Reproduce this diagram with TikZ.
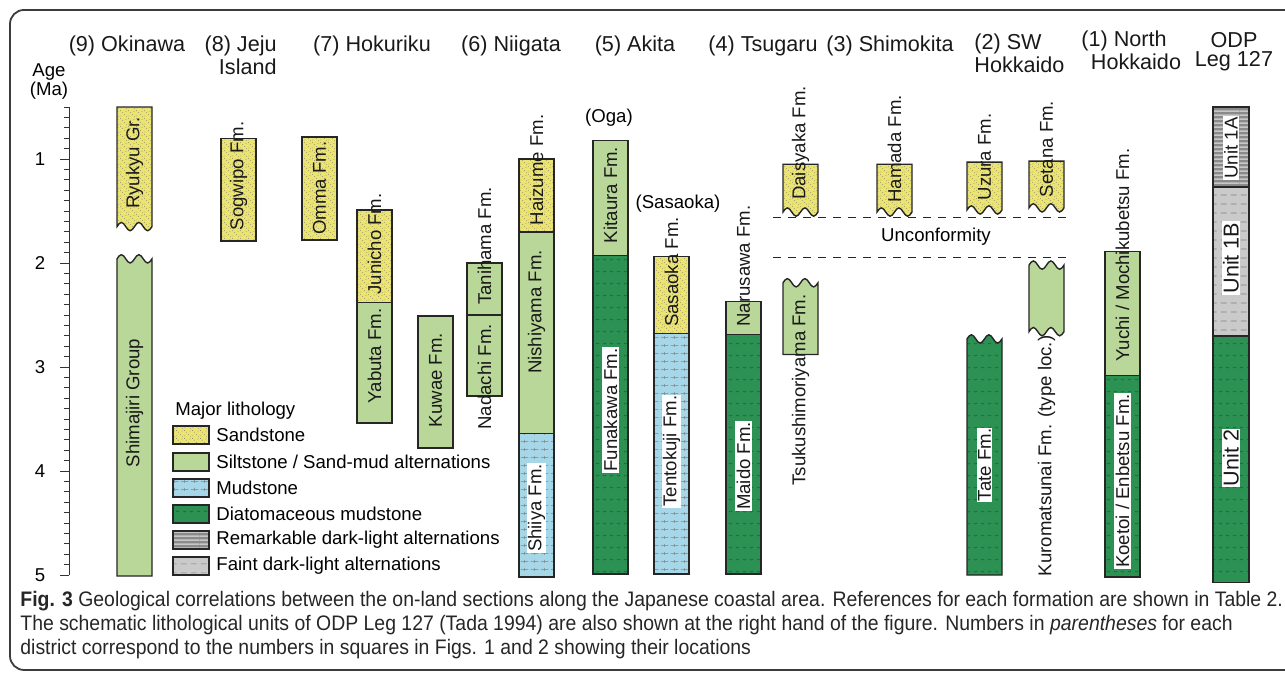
\documentclass[tikz,border=0pt]{standalone}
\usepackage{fontspec}
\setmainfont{Liberation Sans}
\newfontfamily\capfont[FakeStretch=0.925]{Liberation Sans}
\usepackage{tikz}
\usetikzlibrary{patterns}
\definecolor{sandyellow}{RGB}{236,228,112}
\definecolor{siltgreen}{RGB}{185,215,153}
\definecolor{mudblue}{RGB}{165,215,233}
\definecolor{diagreen}{RGB}{44,146,84}
\definecolor{remgray}{RGB}{138,138,138}
\definecolor{faintgray}{RGB}{202,202,202}
\definecolor{framegray}{RGB}{60,60,60}
\newcommand{\fmsize}{\fontsize{9.3}{11}\selectfont}
\newcommand{\hdsize}{\fontsize{10.8}{11.5}\selectfont}
% wavy edges, two periods over one column width
\newcommand{\wavel}{sin ++(-4.375,0.04) cos ++(-4.375,-0.04) sin ++(-4.375,-0.04) cos ++(-4.375,0.04)
  sin ++(-4.375,0.04) cos ++(-4.375,-0.04) sin ++(-4.375,-0.04) cos ++(-4.375,0.04)}
\newcommand{\waver}{sin ++(4.375,-0.04) cos ++(4.375,0.04) sin ++(4.375,0.04) cos ++(4.375,-0.04)
  sin ++(4.375,-0.04) cos ++(4.375,0.04) sin ++(4.375,0.04) cos ++(4.375,-0.04)}
% lithology patterns
\pgfdeclarepatternformonly{sanddots}{\pgfpointorigin}{\pgfpoint{4pt}{4pt}}{\pgfpoint{4pt}{4pt}}{
  \pgfpathcircle{\pgfpoint{0.5pt}{0.6pt}}{0.22pt}
  \pgfpathcircle{\pgfpoint{2.4pt}{1.3pt}}{0.22pt}
  \pgfpathcircle{\pgfpoint{1.3pt}{2.6pt}}{0.22pt}
  \pgfpathcircle{\pgfpoint{3.3pt}{3.2pt}}{0.22pt}
  \pgfpathcircle{\pgfpoint{3.5pt}{0.3pt}}{0.18pt}
  \pgfpathcircle{\pgfpoint{0.3pt}{3.5pt}}{0.18pt}
  \pgfusepath{fill}}
\pgfdeclarepatternformonly{mudplus}{\pgfpointorigin}{\pgfpoint{5pt}{4pt}}{\pgfpoint{5pt}{4pt}}{
  \pgfsetlinewidth{0.3pt}
  \pgfpathmoveto{\pgfpoint{0.5pt}{2pt}}\pgfpathlineto{\pgfpoint{4.5pt}{2pt}}
  \pgfpathmoveto{\pgfpoint{2.5pt}{1.2pt}}\pgfpathlineto{\pgfpoint{2.5pt}{2.8pt}}
  \pgfusepath{stroke}}
\pgfdeclarepatternformonly{diawave}{\pgfpointorigin}{\pgfpoint{7pt}{6pt}}{\pgfpoint{7pt}{6pt}}{
  \pgfsetlinewidth{0.35pt}
  \pgfpathmoveto{\pgfpoint{0.6pt}{3.2pt}}
  \pgfpathcurveto{\pgfpoint{1pt}{2.5pt}}{\pgfpoint{1.8pt}{2.5pt}}{\pgfpoint{2.2pt}{3.2pt}}
  \pgfpathmoveto{\pgfpoint{4.2pt}{3.2pt}}
  \pgfpathcurveto{\pgfpoint{4.6pt}{2.5pt}}{\pgfpoint{5.4pt}{2.5pt}}{\pgfpoint{5.8pt}{3.2pt}}
  \pgfusepath{stroke}}
\pgfdeclarepatternformonly{faintdash}{\pgfpointorigin}{\pgfpoint{5pt}{4.5pt}}{\pgfpoint{5pt}{4.5pt}}{
  \pgfsetlinewidth{0.35pt}
  \pgfpathmoveto{\pgfpoint{0.5pt}{2.2pt}}\pgfpathlineto{\pgfpoint{3.5pt}{2.2pt}}
  \pgfusepath{stroke}}
\pgfdeclarepatternformonly{remstripe}{\pgfpointorigin}{\pgfpoint{20pt}{2.2pt}}{\pgfpoint{20pt}{2.2pt}}{
  \pgfpathrectangle{\pgfpoint{0pt}{0pt}}{\pgfpoint{20pt}{0.9pt}}
  \pgfusepath{fill}}

\begin{document}
\begin{tikzpicture}[x=0.5pt, y={(0,-52pt)},
    sandst/.style={preaction={fill=sandyellow}, pattern=sanddots, pattern color=black!60},
    siltst/.style={fill=siltgreen},
    mudst/.style={preaction={fill=mudblue}, pattern=mudplus, pattern color=black!50},
    diatom/.style={preaction={fill=diagreen}, pattern=diawave, pattern color=black!40!gray},
    remalt/.style={preaction={fill=remgray}, pattern=remstripe, pattern color=black!22},
    faintalt/.style={preaction={fill=faintgray}, pattern=faintdash, pattern color=black!50},
    bed/.style={draw=black!85, line width=0.7pt},
    fm/.style={rotate=90, font=\fmsize, text=black!90, inner sep=0.6pt},
    fmw/.style={fm, fill=white},
    hd/.style={font=\hdsize, text=black!90, inner sep=0pt},
    agetick/.style={draw=black!80, line width=0.5pt}]
  \useasboundingbox (0,-0.5288) rectangle (1285,6.0577);
  % Frame
  \draw[framegray, line width=0.9pt, rounded corners=7pt]
    (1285,-0.433) -- (10,-0.433) -- (10,5.913) -- (1285,5.913);

  % Age axis
  \draw[agetick] (69,0.5) -- (69,5);
  \foreach \i in {5,...,50}
    \draw[agetick] (69,\i/10) -- ++(-5,0);
  \foreach \i in {1,...,5} {
    \draw[agetick] (69,\i) -- ++(-9,0);
    \node[font=\fmsize] (age\i) at (40,\i) {\i};
  }
  \node[font=\fmsize, align=center, inner sep=0pt, anchor=base] (agelbl) at (49,0.385)
    {Age\\[-1.5pt](Ma)};

  % District headings (base = last line)
  \node[hd, anchor=base] (hd9) at (127,-0.029) {(9) Okinawa};
  \node[hd, anchor=base east, align=right] (hd8) at (277,0.192) {(8) Jeju\\Island};
  \node[hd, anchor=base] (hd7) at (372,-0.029) {(7) Hokuriku};
  \node[hd, anchor=base] (hd6) at (511,-0.029) {(6) Niigata};
  \node[hd, anchor=base] (hd5) at (635,-0.029) {(5) Akita};
  \node[hd, anchor=base] (hd4) at (763,-0.029) {(4) Tsugaru};
  \node[hd, anchor=base] (hd3) at (890,-0.029) {(3) Shimokita};
  \node[hd, anchor=base west, align=left] (hd2) at (974,0.173) {(2) SW\\Hokkaido};
  \node[hd, anchor=base, align=center] (hd1) at (1136,0.135) {(1) North\hspace*{12pt}\\Hokkaido};
  \node[hd, anchor=base, align=center] (hdodp) at (1234,0.115) {ODP\\[-2pt]Leg 127};

  % (9) Okinawa
  \draw[bed, sandst] (117,0.5) -- (152,0.5) -- (152,1.65) \wavel -- cycle;
  \draw[bed, siltst] (117,5.01) -- (117,1.96) \waver -- (152,5.01) -- cycle;
  \node[fm] (ryukyu) at (134.5,1.038) {Ryukyu Gr.};
  \node[fm] (shimajiri) at (134.5,3.346) {Shimajiri Group};

  % (8) Jeju Island
  \draw[bed, sandst] (221,0.8) rectangle (256,1.79);
  \node[fm] (sogwipo) at (238.5,1.163) {Sogwipo Fm.};

  % (7) Hokuriku
  \draw[bed, sandst] (302,0.79) rectangle (337,1.78);
  \draw[bed, sandst] (357,1.49) rectangle (392,2.38);
  \draw[bed, siltst] (357,2.38) rectangle (392,3.54);
  \draw[bed, siltst] (418,2.51) rectangle (453,3.78);
  \node[fm] (omma) at (319.5,1.279) {Omma Fm.};
  \node[fm] (junicho) at (374.5,1.817) {Junicho Fm.};
  \node[fm] (yabuta) at (374.5,2.894) {Yabuta Fm.};
  \node[fm] (kuwae) at (435.5,3.125) {Kuwae Fm.};

  % (6) Niigata
  \draw[bed, siltst] (467,2.0) rectangle (502,2.5);
  \draw[bed, siltst] (467,2.5) rectangle (502,3.28);
  \draw[bed, sandst] (519,1.0) rectangle (554,1.70);
  \draw[bed, siltst] (519,1.70) rectangle (554,3.64);
  \draw[bed, mudst] (519,3.64) rectangle (554,5.02);
  \node[fm] (tanihama) at (484.5,1.837) {Tanihama Fm.};
  \node[fm] (nadachi) at (484.5,3.096) {Nadachi Fm.};
  \node[fm] (haizume) at (536.5,1.106) {Haizume Fm.};
  \node[fm] (nishiyama) at (536.5,2.471) {Nishiyama Fm.};
  \node[fmw] (shiiya) at (536.5,4.356) {Shiiya Fm.};

  % (5) Akita
  \draw[bed, siltst] (593,0.82) rectangle (628,1.93);
  \draw[bed, diatom] (593,1.93) rectangle (628,4.99);
  \draw[bed, sandst] (654,1.94) rectangle (689,2.68);
  \draw[bed, mudst] (654,2.68) rectangle (689,4.99);
  \node[font=\fmsize] (oga) at (609,0.606) {(Oga)};
  \node[font=\fmsize] (sasaokaloc) at (678,1.433) {(Sasaoka)};
  \node[fm] (kitaura) at (610.5,1.346) {Kitaura Fm.};
  \node[fmw] (funakawa) at (610.5,3.413) {Funakawa Fm.};
  \node[fm] (sasaoka) at (671.5,2.087) {Sasaoka Fm.};
  \node[fmw] (tentokuji) at (671.5,3.808) {Tentokuji Fm.};

  % (4) Tsugaru
  \draw[bed, siltst] (726,2.37) rectangle (761,2.69);
  \draw[bed, diatom] (726,2.69) rectangle (761,4.99);
  \draw[bed, sandst] (783,1.05) -- (818,1.05) -- (818,1.51) \wavel -- cycle;
  \draw[bed, siltst] (783,2.88) -- (783,2.19) \waver -- (818,2.88) -- cycle;
  \node[fm] (narusawa) at (743.5,2.029) {Narusawa Fm.};
  \node[fmw] (maido) at (743.5,3.952) {Maido Fm.};
  \node[fm] (daisyaka) at (800.5,0.846) {Daisyaka Fm.};
  \node[fm] (tsukushi) at (800.5,3.221) {Tsukushimoriyama Fm.};

  % (3) Shimokita
  \draw[bed, sandst] (877,1.05) -- (912,1.05) -- (912,1.51) \wavel -- cycle;
  \node[fm] (hamada) at (894.5,0.904) {Hamada Fm.};

  % (2) SW Hokkaido
  \draw[bed, sandst] (967,1.03) -- (1002,1.03) -- (1002,1.49) \wavel -- cycle;
  \draw[bed, sandst] (1029,1.02) -- (1064,1.02) -- (1064,1.47) \wavel -- cycle;
  \draw[bed, diatom] (967,5.0) -- (967,2.73) \waver -- (1002,5.0) -- cycle;
  \draw[bed, siltst] (1029,2.66) -- (1029,2.02) \waver -- (1064,2.66) \wavel -- cycle;
  \node[fm] (uzura) at (984.5,0.981) {Uzura Fm.};
  \node[fm] (setana) at (1046.5,0.904) {Setana Fm.};
  \node[fmw] (tate) at (984.5,3.942) {Tate Fm.};
  \node[fm] (kuromatsu) at (1046.5,3.856) {Kuromatsunai Fm. (type loc.)};

  % Unconformity
  \coordinate (unc1w) at (773,1.56);
  \coordinate (unc1e) at (1072,1.56);
  \coordinate (unc2w) at (773,1.95);
  \coordinate (unc2e) at (1072,1.95);
  \draw[black!85, line width=0.6pt, dash pattern=on 4pt off 3.5pt] (unc1w) -- (unc1e);
  \draw[black!85, line width=0.6pt, dash pattern=on 4pt off 3.5pt] (unc2w) -- (unc2e);
  \node[font=\fmsize] (uncon) at (936,1.75) {Unconformity};

  % (1) North Hokkaido
  \draw[bed, siltst] (1105,1.89) rectangle (1140,3.08);
  \draw[bed, diatom] (1105,3.08) rectangle (1140,5.02);
  \node[fm] (yuchi) at (1122.5,1.923) {Yuchi / Mochikubetsu Fm.};
  \node[fmw] (koetoi) at (1122.5,4.096) {Koetoi / Enbetsu Fm.};

  % ODP Leg 127
  \draw[bed, remalt] (1213,0.5) rectangle (1249,1.27);
  \draw[bed, faintalt] (1213,1.27) rectangle (1249,2.70);
  \draw[bed, diatom] (1213,2.70) rectangle (1249,5.07);
  \draw[black!85, line width=1.2pt] (1213,1.27) -- (1249,1.27);
  \node[fmw] (unit1a) at (1231,0.894) {Unit 1A};
  \node[fmw, font=\hdsize] (unit1b) at (1231,1.952) {Unit 1B};
  \node[fmw, font=\hdsize] (unit2) at (1231,3.875) {Unit 2};

  % Legend
  \node[font=\fmsize, anchor=base west, inner sep=0pt] (legtitle) at (175,3.4615) {Major lithology};
  \draw[bed, sandst] (173,3.567) rectangle (209,3.741);
  \draw[bed, siltst] (173,3.826) rectangle (209,4.000);
  \draw[bed, mudst] (173,4.076) rectangle (209,4.250);
  \draw[bed, diatom] (173,4.326) rectangle (209,4.500);
  \draw[bed, remalt] (173,4.576) rectangle (209,4.750);
  \draw[bed, faintalt] (173,4.826) rectangle (209,5.000);
  \node[font=\fmsize, anchor=west, inner sep=0pt] (legsand) at (216,3.654) {Sandstone};
  \node[font=\fmsize, anchor=west, inner sep=0pt] (legsilt) at (216,3.913) {Siltstone / Sand-mud alternations};
  \node[font=\fmsize, anchor=west, inner sep=0pt] (legmud) at (216,4.163) {Mudstone};
  \node[font=\fmsize, anchor=west, inner sep=0pt] (legdia) at (216,4.413) {Diatomaceous mudstone};
  \node[font=\fmsize, anchor=west, inner sep=0pt] (legrem) at (216,4.663) {Remarkable dark-light alternations};
  \node[font=\fmsize, anchor=west, inner sep=0pt] (legfaint) at (216,4.913) {Faint dark-light alternations};

  % Caption (base = last line)
  \node[anchor=base west, align=left, inner sep=0pt, text=black!85,
    font={\capfont\fontsize{10.5}{12}\selectfont}] (caption) at (20,5.76)
    {\textbf{Fig. 3} Geological correlations between the on-land sections along the Japanese coastal area. References for each formation are shown in Table 2.\\
     The schematic lithological units of ODP Leg 127 (Tada 1994) are also shown at the right hand of the figure. Numbers in \textit{parentheses} for each\\
     district correspond to the numbers in squares in Figs. 1 and 2 showing their locations};
\end{tikzpicture}
\end{document}
